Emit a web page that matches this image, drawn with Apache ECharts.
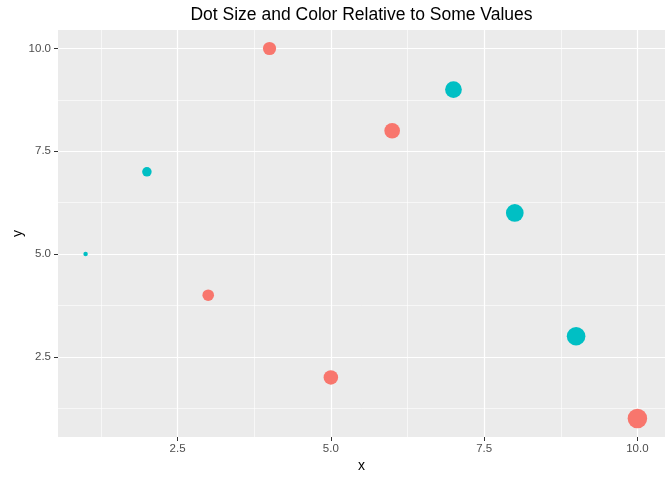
<!DOCTYPE html>
<html>
<head>
<meta charset="utf-8">
<script src="https://cdn.jsdelivr.net/npm/echarts@6/dist/echarts.min.js"></script>
<style>html,body{margin:0;padding:0;background:#fff}#c{width:672px;height:480px}</style>
</head>
<body>
<div id="c"></div>
<script>
const xs = [1, 2, 3, 4, 5, 6, 7, 8, 9, 10];
const ys = [5, 7, 4, 10, 2, 8, 9, 6, 3, 1];
const sizes = [1, 2, 3, 4, 5, 6, 7, 8, 9, 10];
const groups = ['B', 'B', 'A', 'A', 'A', 'A', 'B', 'B', 'B', 'A'];
const groupNames = ['A', 'B'];
const groupColors = ['#F8766D', '#00BFC4'];
const xTicks = [2.5, 5, 7.5, 10];
const yTicks = [2.5, 5, 7.5, 10];
const xMinor = [1.25, 3.75, 6.25, 8.75];
const yMinor = [1.25, 3.75, 6.25, 8.75];
const xRange = [0.55, 10.45];
const yRange = [0.55, 10.45];

const sMin = Math.min(...sizes), sMax = Math.max(...sizes);
function symSize(v) {
  const s = 1 + 5 * Math.sqrt((v - sMin) / (sMax - sMin));
  return 3.0 * s + 1.5;
}

const chart = echarts.init(document.getElementById('c'), null, {renderer: 'canvas'});
const font = 'Liberation Sans, Arial, sans-serif';

const gridLines = [];
xMinor.forEach(v => gridLines.push({xAxis: v, lineStyle: {color: '#fff', width: 0.6, type: 'solid'}}));
yMinor.forEach(v => gridLines.push({yAxis: v, lineStyle: {color: '#fff', width: 0.6, type: 'solid'}}));
xTicks.forEach(v => gridLines.push({xAxis: v, lineStyle: {color: '#fff', width: 1.2, type: 'solid'}}));
yTicks.forEach(v => gridLines.push({yAxis: v, lineStyle: {color: '#fff', width: 1.2, type: 'solid'}}));

const series = [{
  type: 'scatter',
  data: [],
  silent: true,
  z: 1,
  markLine: {
    silent: true,
    z: 1,
    symbol: ['none', 'none'],
    label: {show: false},
    animation: false,
    data: gridLines
  }
}];
groupNames.forEach((g, gi) => {
  const data = [];
  xs.forEach((x, i) => { if (groups[i] === g) data.push([x, ys[i], sizes[i]]); });
  series.push({
    type: 'scatter',
    name: g,
    z: 10,
    data: data,
    symbolSize: d => symSize(d[2]),
    itemStyle: {color: groupColors[gi], opacity: 1},
    emphasis: {disabled: true}
  });
});

chart.setOption({
  animation: false,
  backgroundColor: '#fff',
  grid: {left: 58, right: 7, top: 30, bottom: 43, show: true, backgroundColor: '#EBEBEB', borderWidth: 0, containLabel: false, outerBoundsMode: 'none'},
  graphic: [{
    type: 'text', x: 361.5, y: 15,
    style: {text: 'Dot Size and Color Relative to Some Values', fontFamily: font, fontSize: 17.5, fill: '#000', textAlign: 'center', textVerticalAlign: 'middle'}
  }],
  xAxis: {
    type: 'value', min: xRange[0], max: xRange[1],
    name: 'x', nameLocation: 'middle', nameGap: 22, nameMoveOverlap: false,
    nameTextStyle: {fontFamily: font, fontSize: 14, color: '#000'},
    axisLine: {show: false},
    axisTick: {show: true, customValues: xTicks, length: 4, lineStyle: {color: '#333', width: 1}},
    axisLabel: {customValues: xTicks, formatter: v => v.toFixed(1), fontFamily: font, fontSize: 11.5, color: '#4D4D4D', margin: 6},
    splitLine: {show: false}
  },
  yAxis: {
    type: 'value', min: yRange[0], max: yRange[1],
    name: 'y', nameLocation: 'middle', nameGap: 33, nameMoveOverlap: false,
    nameTextStyle: {fontFamily: font, fontSize: 14, color: '#000'},
    axisLine: {show: false},
    axisTick: {show: true, customValues: yTicks, length: 4, lineStyle: {color: '#333', width: 1}},
    axisLabel: {customValues: yTicks, formatter: v => v.toFixed(1), fontFamily: font, fontSize: 11.5, color: '#4D4D4D', margin: 7},
    splitLine: {show: false}
  },
  series: series
});
</script>
</body>
</html>
